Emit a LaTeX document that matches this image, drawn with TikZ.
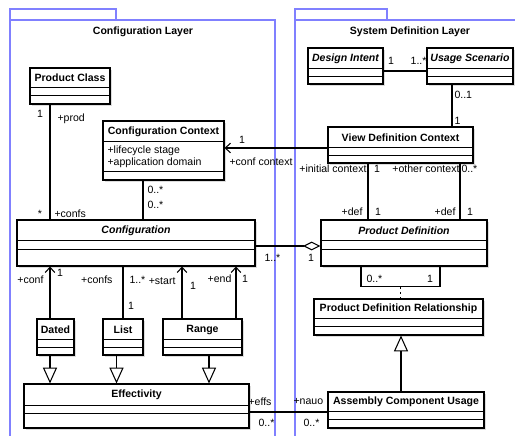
\documentclass[tikz,border=0pt]{standalone}
\usepackage{fontspec}
\setmainfont{Liberation Sans}
\usepackage{tikz}
\usetikzlibrary{positioning,arrows.meta,calc,shadows}
\definecolor{pkgcolor}{RGB}{128,128,255}
\definecolor{shadowcolor}{RGB}{205,205,205}

% compartment lines of a class box
\newcommand{\classlines}[3]{%
  \draw ($(#1.north west)+(0,#2)$) -- ($(#1.north east)+(0,#2)$);
  \draw ($(#1.north west)+(0,#3)$) -- ($(#1.north east)+(0,#3)$);}

\begin{document}
\begin{tikzpicture}[x=0.02cm, y=-0.02cm, line width=0.6pt,
    font=\fontsize{6}{6.8}\selectfont,
    umlclass/.style={draw, fill=white, inner sep=0pt,
      drop shadow={shadow xshift=1.3pt, shadow yshift=-1.3pt, fill=shadowcolor, opacity=0.7}},
    cname/.style={inner sep=0pt, font=\fontsize{6}{7}\selectfont\bfseries},
    aname/.style={inner sep=0pt, font=\fontsize{6}{7}\selectfont\bfseries\itshape},
    lbl/.style={inner sep=0pt},
    pkg/.style={draw=pkgcolor, line width=0.7pt},
    nav/.style={arrows={-Straight Barb[length=3pt, width=5.5pt]}},
    gen/.style={arrows={-Triangle[open, length=9pt, width=8pt]}},
    agg/.style={arrows={Diamond[open, length=10pt, width=5pt]-}},
    assocdash/.style={dash pattern=on 1.5pt off 1.5pt}]

    \useasboundingbox (0,0) rectangle (515,436);
    \clip (0,0) rectangle (515,436);

    % Packages
    \draw[pkg] (10,9) rectangle (116,20);
    \draw[pkg] (10,20) rectangle (275,450);
    \draw[pkg] (295,9) rectangle (387,20);
    \draw[pkg] (295,20) rectangle (530,450);
    \node[cname] (cl-title) at (143,32) {Configuration Layer};
    \node[cname] (sd-title) at (410,32) {System Definition Layer};

    % Product Class
    \node[umlclass, minimum width=1.6cm, minimum height=0.72cm] (pclass) at (70,86) {};
    \node[cname] (pclass-n) at (70,78) {Product Class};
    \classlines{pclass}{20}{28}

    % Configuration Context
    \node[umlclass, minimum width=2.42cm, minimum height=1.18cm] (confctx) at (163.5,150.5) {};
    \node[cname] (confctx-n) at (163.5,131.5) {Configuration Context};
    \node[lbl, anchor=west, align=left] (confctx-a) at (107,157) {+lifecycle stage\\+application domain};
    \classlines{confctx}{21}{51}

    % Design Intent / Usage Scenario
    \node[umlclass, minimum width=1.5cm, minimum height=0.72cm] (dintent) at (345.5,66) {};
    \node[aname] (dintent-n) at (345.5,58.5) {Design Intent};
    \classlines{dintent}{21}{29}
    \node[umlclass, minimum width=1.72cm, minimum height=0.72cm] (uscen) at (470,66) {};
    \node[aname] (uscen-n) at (470,58.5) {Usage Scenario};
    \classlines{uscen}{21}{29}

    % View Definition Context
    \node[umlclass, minimum width=2.9cm, minimum height=0.72cm] (vdc) at (400.5,145) {};
    \node[cname] (vdc-n) at (400.5,137.5) {View Definition Context};
    \classlines{vdc}{21}{29}

    % Configuration / Product Definition
    \node[umlclass, minimum width=4.76cm, minimum height=0.92cm] (conf) at (136,243) {};
    \node[aname] (conf-n) at (136,230.5) {Configuration};
    \classlines{conf}{21}{30}
    \node[umlclass, minimum width=3.32cm, minimum height=0.92cm] (pdef) at (404,243) {};
    \node[aname] (pdef-n) at (404,230.5) {Product Definition};
    \classlines{pdef}{21}{30}

    % Dated, List, Range
    \node[umlclass, minimum width=0.74cm, minimum height=0.72cm] (dated) at (55.5,337) {};
    \node[cname] (dated-n) at (55.5,329.5) {Dated};
    \classlines{dated}{21}{29}
    \node[umlclass, minimum width=0.8cm, minimum height=0.72cm] (list) at (123,337) {};
    \node[cname] (list-n) at (123,329.5) {List};
    \classlines{list}{21}{29}
    \node[umlclass, minimum width=1.58cm, minimum height=0.72cm] (range) at (202.5,337) {};
    \node[cname] (range-n) at (202.5,329.5) {Range};
    \classlines{range}{21}{29}

    % Effectivity
    \node[umlclass, minimum width=4.5cm, minimum height=0.88cm] (eff) at (136.5,406) {};
    \node[cname] (eff-n) at (136.5,395) {Effectivity};
    \classlines{eff}{22}{30}

    % Product Definition Relationship / Assembly Component Usage
    \node[umlclass, minimum width=3.38cm, minimum height=0.72cm] (pdr) at (398.5,317) {};
    \node[cname] (pdr-n) at (398.5,309) {Product Definition Relationship};
    \classlines{pdr}{20}{28}
    \node[umlclass, minimum width=3.12cm, minimum height=0.72cm] (acu) at (406,410) {};
    \node[cname] (acu-n) at (406,402) {Assembly Component Usage};
    \classlines{acu}{20}{28}

    % Associations
    \draw ([xshift=-0.4cm]pclass.south) -- ([xshift=-0.4cm]pclass.south |- conf.north);
    \node[lbl] (pc-m1) at (40,114) {1};
    \node[lbl, anchor=west] (pc-r1) at (57,119) {+prod};
    \node[lbl] (pc-m2) at (40,214) {*};
    \node[lbl, anchor=west] (pc-r2) at (54,214) {+confs};

    \draw ([xshift=-0.41cm]confctx.south) -- ([xshift=-0.41cm]confctx.south |- conf.north);
    \node[lbl, anchor=west] (cc-m1) at (147,190) {0..*};
    \node[lbl, anchor=west] (cc-m2) at (147,205) {0..*};

    \draw[nav] ([yshift=-0.06cm]vdc.west) -- ([yshift=-0.06cm]vdc.west -| confctx.east);
    \node[lbl] (vdc-m1) at (242,140) {1};
    \node[lbl, anchor=west] (vdc-r1) at (229,162) {+conf context};

    \draw ([yshift=-0.1cm]dintent.east) -- ([yshift=-0.1cm]dintent.east -| uscen.west);
    \node[lbl] (di-m1) at (391,61) {1};
    \node[lbl, anchor=east] (di-m2) at (427,61) {1..*};

    \draw ([xshift=-0.36cm]uscen.south) -- ([xshift=-0.36cm]uscen.south |- vdc.north);
    \node[lbl, anchor=west] (us-m1) at (454,95) {0..1};
    \node[lbl, anchor=west] (us-m2) at (454,121) {1};

    \draw ([xshift=-0.65cm]vdc.south) -- ([xshift=-0.65cm]vdc.south |- pdef.north);
    \draw ([xshift=1.19cm]vdc.south) -- ([xshift=1.19cm]vdc.south |- pdef.north);
    \node[lbl, anchor=east] (ic-r) at (367,169) {+initial context};
    \node[lbl] (ic-m) at (377,169) {1};
    \node[lbl, anchor=east] (oc-r) at (460,169) {+other context};
    \node[lbl, anchor=west] (oc-m) at (461,169) {0..*};
    \node[lbl, anchor=east] (d1-r) at (363,212) {+def};
    \node[lbl] (d1-m) at (378,212) {1};
    \node[lbl, anchor=east] (d2-r) at (456,212) {+def};
    \node[lbl] (d2-m) at (470,212) {1};

    \draw[agg] ([yshift=-0.06cm]pdef.west) -- ([yshift=-0.06cm]pdef.west -| conf.east);
    \node[lbl, anchor=west] (ag-m1) at (264,258) {1..*};
    \node[lbl] (ag-m2) at (311,258) {1};

    % Relationship loop
    \draw ([xshift=-0.86cm]pdef.south) -- ++(0,20) coordinate (loopl)
      -- ++(79,0) coordinate (loopr) -- (loopr |- pdef.south);
    \coordinate (loopm) at ($(loopl)!0.5!(loopr)$);
    \draw[assocdash] (loopm) -- (loopm |- pdr.north);
    \node[lbl, anchor=west] (lp-m1) at (366,279) {0..*};
    \node[lbl] (lp-m2) at (430,279) {1};

    % Effectivity kinds
    \draw[nav] ([xshift=-0.11cm]dated.north) -- ([xshift=-0.11cm]dated.north |- conf.south);
    \node[lbl, anchor=east] (dt-r) at (44,280) {+conf};
    \node[lbl] (dt-m) at (60,273) {1};
    \draw (list.north) -- (list.north |- conf.south);
    \node[lbl, anchor=east] (ls-r) at (113,280) {+confs};
    \node[lbl, anchor=west] (ls-m1) at (129,280) {1..*};
    \node[lbl] (ls-m2) at (131,306) {1};
    \draw[nav] ([xshift=-0.41cm]range.north) -- ([xshift=-0.41cm]range.north |- conf.south);
    \draw[nav] ([xshift=0.67cm]range.north) -- ([xshift=0.67cm]range.north |- conf.south);
    \node[lbl, anchor=east] (rg-r1) at (176,281) {+start};
    \node[lbl] (rg-m1) at (193,286) {1};
    \node[lbl, anchor=east] (rg-r2) at (232,279) {+end};
    \node[lbl] (rg-m2) at (245,279) {1};

    % Generalizations
    \draw[gen] ([xshift=-0.11cm]dated.south) -- ([xshift=-0.11cm]dated.south |- eff.north);
    \draw[gen] ([xshift=-0.13cm]list.south) -- ([xshift=-0.13cm]list.south |- eff.north);
    \draw[gen] ([xshift=0.13cm]range.south) -- ([xshift=0.13cm]range.south |- eff.north);
    \draw[gen] ([xshift=-0.1cm]acu.north) -- ([xshift=-0.1cm]acu.north |- pdr.south);

    \draw ([yshift=-0.12cm]eff.east) -- ([yshift=-0.12cm]eff.east -| acu.west);
    \node[lbl, anchor=west] (ef-r) at (248,402) {+effs};
    \node[lbl, anchor=west] (ef-m) at (258,423) {0..*};
    \node[lbl, anchor=west] (na-r) at (293,402) {+nauo};
    \node[lbl, anchor=west] (na-m) at (303,423) {0..*};
\end{tikzpicture}
\end{document}
